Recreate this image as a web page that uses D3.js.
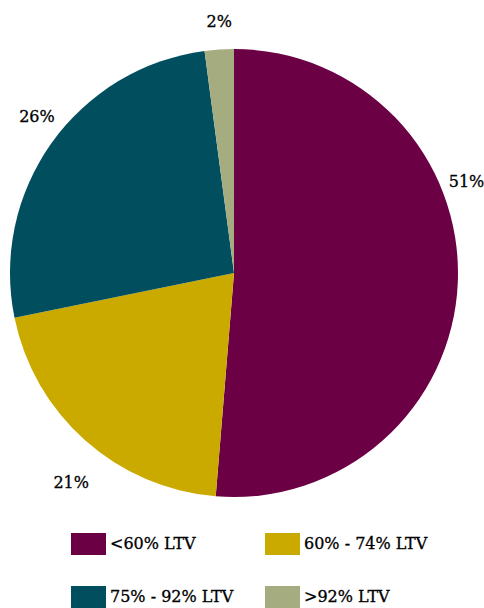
<!DOCTYPE html>
<html>
<head>
<meta charset="utf-8">
<script src="https://cdn.jsdelivr.net/npm/d3@7"></script>
<style>
  body { margin: 0; background: #fff; }
  text { font-family: "DejaVu Serif", serif; fill: #000; stroke: #000; stroke-width: 0.3px; }
</style>
</head>
<body>
<svg class="chart"></svg>
<script>
var categories = ["<60% LTV", "60% - 74% LTV", "75% - 92% LTV", ">92% LTV"];
var shares = [51.3, 20.5, 26.1, 2.1];
var shareLabels = ["51%", "21%", "26%", "2%"];
var colorList = ["#6c0045", "#cbaa00", "#004e5e", "#a5ad80"];

var screen = { width: 484, height: 608 };

var svg = d3.select(".chart")
            .attr("width", screen.width)
            .attr("height", screen.height);

var cx = 234, cy = 273, radius = 224;

var colors = d3.scaleOrdinal()
               .domain(categories)
               .range(colorList);

var pie = d3.pie().sort(null).value(function(d) { return d.value; });

var data = categories.map(function(c, i) {
  return { name: c, value: shares[i], label: shareLabels[i] };
});

var arcs = pie(data);

var arc = d3.arc().innerRadius(0).outerRadius(radius);

var plotLand = svg.append("g")
                  .attr("transform", "translate(" + cx + "," + cy + ")");

plotLand.selectAll("path")
        .data(arcs)
        .enter()
        .append("path")
        .attr("d", arc)
        .attr("fill", function(d) { return colors(d.data.name); });

// outside labels, nudged a bit off the mid angle like the original
var labelRadius = [250, 265, 252, 252];
var labelNudge = [-0.417, -0.064, 0.054, 0.007];

plotLand.selectAll("text.pct")
        .data(arcs)
        .enter()
        .append("text")
        .classed("pct", true)
        .attr("text-anchor", "middle")
        .attr("dy", "0.35em")
        .style("font-size", "16px")
        .attr("x", function(d, i) {
          var a = (d.startAngle + d.endAngle) / 2 + labelNudge[i];
          return Math.sin(a) * labelRadius[i];
        })
        .attr("y", function(d, i) {
          var a = (d.startAngle + d.endAngle) / 2 + labelNudge[i];
          return -Math.cos(a) * labelRadius[i];
        })
        .text(function(d) { return d.data.label; });

// legend
var legend = svg.append("g")
                .attr("transform", "translate(71,533)");

var legendLines = legend.selectAll("g")
                        .data(categories)
                        .enter()
                        .append("g")
                        .attr("transform", function(d, i) {
                          return "translate(" + ((i % 2) * 194) + "," + (Math.floor(i / 2) * 53) + ")";
                        });

legendLines.append("rect")
           .attr("width", 35)
           .attr("height", 22)
           .attr("fill", function(d) { return colors(d); });

legendLines.append("text")
           .attr("x", 39)
           .attr("y", 16)
           .style("font-size", "16px")
           .text(function(d) { return d; });
</script>
</body>
</html>
